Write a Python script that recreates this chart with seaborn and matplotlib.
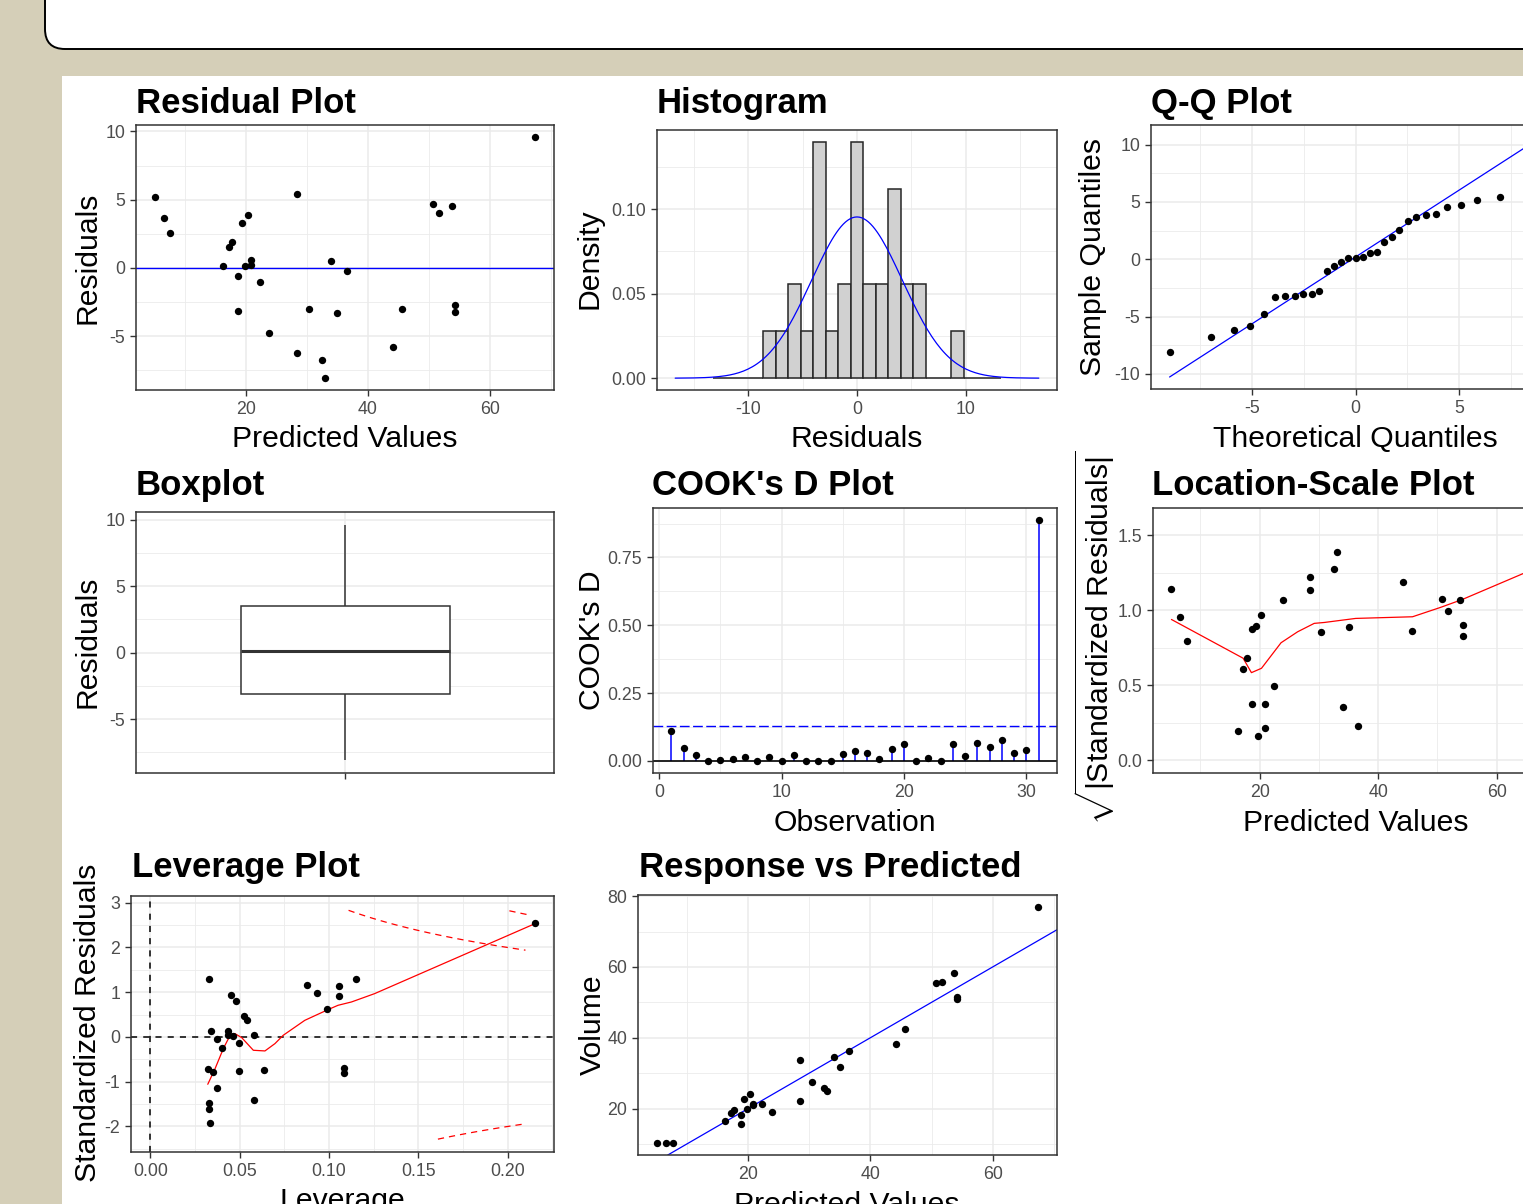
import numpy as np
import pandas as pd
import matplotlib
matplotlib.use("Agg")
import matplotlib.pyplot as plt
import seaborn as sns
from matplotlib.patches import FancyBboxPatch, Rectangle
from matplotlib.transforms import IdentityTransform
from matplotlib.ticker import MultipleLocator, FormatStrFormatter, NullLocator
from statistics import NormalDist

# ---------------- data ----------------
observation = list(range(1, 32))
predicted = [5.10, 6.62, 7.64, 16.25, 17.26, 17.77, 18.78, 18.78, 19.29, 19.79, 20.30,
             20.81, 20.81, 22.33, 23.85, 28.41, 28.41, 30.43, 32.46, 32.97, 33.98, 34.99,
             36.51, 44.11, 45.63, 50.70, 51.71, 53.74, 54.24, 54.24, 67.41]
volume = [10.3, 10.3, 10.2, 16.4, 18.8, 19.7, 15.6, 18.2, 22.6, 19.9, 24.2, 21.0, 21.4,
          21.3, 19.1, 22.2, 33.8, 27.4, 25.7, 24.9, 34.5, 31.7, 36.3, 38.3, 42.6, 55.4,
          55.7, 58.3, 51.5, 51.0, 77.0]
residuals = [5.20, 3.68, 2.56, 0.15, 1.54, 1.93, -3.18, -0.58, 3.31, 0.11, 3.90, 0.19,
             0.59, -1.03, -4.75, -6.21, 5.39, -3.03, -6.76, -8.07, 0.52, -3.29, -0.21,
             -5.81, -3.03, 4.70, 3.99, 4.56, -2.74, -3.24, 9.59]
std_residuals = [1.299, 0.914, 0.635, 0.037, 0.372, 0.467, -0.767, -0.140, 0.798, 0.026,
                 0.938, 0.046, 0.142, -0.247, -1.138, -1.484, 1.290, -0.725, -1.616,
                 -1.929, 0.125, -0.788, -0.051, -1.408, -0.737, 1.158, 0.986, 1.135,
                 -0.683, -0.808, 2.545]
leverage = [0.1151, 0.1054, 0.0992, 0.0578, 0.0542, 0.0525, 0.0494, 0.0494, 0.0479, 0.0465,
            0.0451, 0.0438, 0.0438, 0.0404, 0.0375, 0.0327, 0.0327, 0.0323, 0.0329, 0.0333,
            0.0342, 0.0353, 0.0376, 0.0579, 0.0638, 0.0878, 0.0935, 0.1055, 0.1087, 0.1087,
            0.2152]
cooks_d = [0.1097, 0.0492, 0.0222, 0.0000, 0.0040, 0.0060, 0.0153, 0.0005, 0.0160, 0.0000,
           0.0208, 0.0001, 0.0005, 0.0013, 0.0252, 0.0372, 0.0281, 0.0088, 0.0444, 0.0641,
           0.0003, 0.0114, 0.0001, 0.0609, 0.0185, 0.0646, 0.0501, 0.0760, 0.0285, 0.0398,
           0.8880]
# loess smooth (location-scale)
loc_smooth_x = [5.10, 17.2, 18.6, 20.3, 23.6, 26.4, 29.2, 30.9, 36.2, 45.8, 50.5, 54.2, 64.2, 67.41]
loc_smooth_y = [0.938, 0.680, 0.584, 0.613, 0.783, 0.856, 0.912, 0.918, 0.945, 0.956, 1.018,
                1.071, 1.239, 1.293]
# loess smooth (leverage)
lev_smooth_x = [0.0322, 0.0363, 0.0409, 0.0450, 0.0474, 0.0512, 0.0577, 0.0642, 0.0698,
                0.0744, 0.0865, 0.0995, 0.1051, 0.1126, 0.1256, 0.2152]
lev_smooth_y = [-1.057, -0.707, -0.26, 0.06, 0.075, -0.015, -0.297, -0.312, -0.148, 0.037,
                0.372, 0.611, 0.708, 0.782, 0.969, 2.53]
# Cook's distance contour lines in the leverage plot
cook_levels = [0.5, 1.0, 0.5]
cook_signs = [1, 1, -1]
cook_h_from = [0.111, 0.201, 0.161]
cook_h_to = [0.210, 0.211, 0.210]

# ---------------- style ----------------
W, H = 1523, 1204
BG = "#D5CFB8"
sns.set_style("white")
plt.rcParams["font.family"] = ["Liberation Sans", "DejaVu Sans"]
plt.rcParams["axes.unicode_minus"] = False
plt.rcParams["mathtext.fontset"] = "custom"
plt.rcParams["mathtext.rm"] = "Liberation Sans"
plt.rcParams["mathtext.it"] = "Liberation Sans:italic"
plt.rcParams["mathtext.bf"] = "Liberation Sans:bold"

TITLE = 25.0
LAB = 21.7
TICK = 12.8
PT_S = 28

fig = plt.figure(figsize=(W / 100, H / 100), dpi=100, facecolor=BG)
fig.add_artist(Rectangle((62 / W, 0), 1, 1 - 76 / H, transform=fig.transFigure,
                         facecolor="white", edgecolor="none", zorder=-5))
fig.add_artist(FancyBboxPatch((45, H - 49), 1700, 200,
                              boxstyle="round,pad=0,rounding_size=20",
                              transform=IdentityTransform(), facecolor="white",
                              edgecolor="black", linewidth=1.4, zorder=-4))


def add_ax(l, t, r, b):
    return fig.add_axes([l / W, 1 - b / H, (r - l) / W, (b - t) / H])


def style(ax, xmaj, xmin, ymaj, ymin, xfmt=None, yfmt=None):
    ax.set_facecolor("white")
    for s in ax.spines.values():
        s.set_visible(True)
        s.set_color("#333333")
        s.set_linewidth(1.1)
    if xmaj is not None:
        ax.xaxis.set_major_locator(MultipleLocator(xmaj))
        ax.xaxis.set_minor_locator(MultipleLocator(xmin))
    ax.yaxis.set_major_locator(MultipleLocator(ymaj))
    ax.yaxis.set_minor_locator(MultipleLocator(ymin))
    if xfmt:
        ax.xaxis.set_major_formatter(FormatStrFormatter(xfmt))
    if yfmt:
        ax.yaxis.set_major_formatter(FormatStrFormatter(yfmt))
    ax.grid(True, which="major", color="#EBEBEB", linewidth=1.1)
    ax.grid(True, which="minor", color="#EBEBEB", linewidth=0.6)
    ax.set_axisbelow(True)
    ax.tick_params(which="major", length=4.3, width=1.0, color="#333333",
                   labelsize=TICK, labelcolor="#4D4D4D", pad=3.4,
                   bottom=True, left=True, top=False, right=False)
    ax.tick_params(which="minor", length=0)
    ax.set_xlabel("")
    ax.set_ylabel("")


def expand(lo, hi, f=0.05):
    d = (hi - lo) * f
    return lo - d, hi + d


n = len(residuals)
mu = float(np.mean(residuals))
sd = float(np.std(residuals, ddof=1))
dist = NormalDist(mu, sd)
pred_lim = expand(min(predicted), max(predicted))

# ---- 1 Residual plot
ax = add_ax(136, 125, 554, 390)
sns.scatterplot(x=predicted, y=residuals, color="black", s=PT_S, linewidth=0, ax=ax, zorder=3)
ax.axhline(0, color="#0000FF", linewidth=1.0)
style(ax, 20, 10, 5, 2.5)
ax.set_xlim(*pred_lim)
ax.set_ylim(*expand(min(residuals), max(residuals)))

# ---- 2 Histogram
ax = add_ax(657, 130, 1057, 390)
hist_edges = -0.575 + 1.153 * np.arange(-11, 13)
sns.histplot(x=residuals, stat="density", bins=hist_edges,
             color="#D1D1D1", edgecolor="#262626", linewidth=1.1, alpha=1, ax=ax)
xs = np.linspace(mu - 4 * sd, mu + 4 * sd, 161)
ys = [dist.pdf(v) for v in xs]
sns.lineplot(x=xs, y=ys, color="#0000FF", linewidth=0.9, estimator=None, sort=False, ax=ax)
style(ax, 10, 5, 0.05, 0.025, yfmt="%.2f")
ax.set_xlim(*expand(xs[0], xs[-1]))
ax.set_ylim(*expand(0, max(p.get_height() for p in ax.patches)))

# ---- 3 Q-Q plot
ax = add_ax(1151, 125, 1560, 389)
probs = (np.arange(1, n + 1) - 0.5) / n
theo = [dist.inv_cdf(p) for p in probs]
sample = np.sort(residuals)
q1, q3 = np.percentile(residuals, [25, 75])
t1, t3 = dist.inv_cdf(0.25), dist.inv_cdf(0.75)
slope = (q3 - q1) / (t3 - t1)
icpt = q1 - slope * t1
line_x = [theo[0], theo[-1]]
line_y = [icpt + slope * v for v in line_x]
sns.lineplot(x=line_x, y=line_y, color="#0000FF", linewidth=0.9, estimator=None, ax=ax)
sns.scatterplot(x=theo, y=sample, color="black", s=PT_S, linewidth=0, ax=ax, zorder=3)
style(ax, 5, 2.5, 5, 2.5)
ax.set_xlim(*expand(theo[0], theo[-1]))
ax.set_ylim(*expand(min(line_y[0], sample[0]), max(line_y[1], sample[-1])))

# ---- 4 Boxplot
ax = add_ax(136, 512, 554, 773)
sns.boxplot(y=residuals, width=0.5, color="white", linecolor="#333333", linewidth=1.1,
            showcaps=False, medianprops={"linewidth": 2.2}, ax=ax)
style(ax, None, None, 5, 2.5)
ax.set_xlim(-0.5, 0.5)
ax.set_xticks([0])
ax.set_xticklabels([""])
ax.xaxis.set_minor_locator(NullLocator())
ax.grid(True, axis="x", which="major", color="#EBEBEB", linewidth=1.1)
ax.set_ylim(-9.05, 10.57)

# ---- 5 Cook's D
ax = add_ax(653, 508, 1057, 773)
ax.vlines(observation, 0, cooks_d, color="#0000FF", linewidth=1.1)
ax.axhline(0, color="black", linewidth=1.2)
ax.axhline(4 / n, color="#0000FF", linewidth=1.0, linestyle=(0, (7, 2.5)))
sns.scatterplot(x=observation, y=cooks_d, color="black", s=PT_S, linewidth=0, ax=ax, zorder=3)
style(ax, 10, 5, 0.25, 0.125, yfmt="%.2f")
ax.set_xlim(*expand(1, n))
ax.set_ylim(*expand(0, max(cooks_d)))

# ---- 6 Location-Scale
ax = add_ax(1153, 508, 1559, 773)
sqrt_abs = np.sqrt(np.abs(std_residuals))
sns.scatterplot(x=predicted, y=sqrt_abs, color="black", s=PT_S, linewidth=0, ax=ax, zorder=3)
sns.lineplot(x=loc_smooth_x, y=loc_smooth_y, color="#FF0000", linewidth=0.9,
             estimator=None, sort=False, ax=ax)
style(ax, 20, 10, 0.5, 0.25, yfmt="%.1f")
ax.set_xlim(*pred_lim)
ax.set_ylim(-0.084, 1.68)

# ---- 7 Leverage
ax = add_ax(131, 896, 554, 1152)
ax.axvline(0, color="black", linewidth=1.1, linestyle=(0, (4, 4)))
ax.axhline(0, color="black", linewidth=1.1, linestyle=(0, (4, 4)))
for lev_, sgn, h0, h1 in zip(cook_levels, cook_signs, cook_h_from, cook_h_to):
    hh = np.linspace(h0, h1, 60)
    yy = sgn * np.sqrt(lev_ * 2 * (1 - hh) / hh)
    ax.plot(hh, yy, color="#FF0000", linewidth=0.9, linestyle=(0, (5, 4)))
sns.scatterplot(x=leverage, y=std_residuals, color="black", s=PT_S, linewidth=0, ax=ax, zorder=3)
sns.lineplot(x=lev_smooth_x, y=lev_smooth_y, color="#FF0000", linewidth=0.9,
             estimator=None, sort=False, ax=ax)
style(ax, 0.05, 0.025, 1, 0.5, xfmt="%.2f")
ax.set_xlim(*expand(0, max(leverage)))
ax.set_ylim(-2.57, 3.15)

# ---- 8 Response vs Predicted
ax = add_ax(638, 895, 1057, 1155)
ax.axline((0, 0), slope=1, color="#0000FF", linewidth=0.9)
sns.scatterplot(x=predicted, y=volume, color="black", s=PT_S, linewidth=0, ax=ax, zorder=3)
style(ax, 20, 10, 20, 10)
ax.set_xlim(*pred_lim)
ax.set_ylim(*expand(min(volume), max(volume)))

# ---------------- texts ----------------
titles = [("Residual Plot", 136, 113), ("Histogram", 657, 113), ("Q-Q Plot", 1151, 113),
          ("Boxplot", 136, 495), ("COOK's D Plot", 652, 495), ("Location-Scale Plot", 1152, 495),
          ("Leverage Plot", 132, 877), ("Response vs Predicted", 639, 877)]
for t, x, y in titles:
    fig.text(x / W, 1 - y / H, t, ha="left", va="baseline", fontsize=TITLE,
             fontweight="bold", color="black")

xlabels = [("Predicted Values", 345, 447), ("Residuals", 857, 447),
           ("Theoretical Quantiles", 1355, 447), ("Observation", 855, 831),
           ("Predicted Values", 1356, 831), ("Leverage", 342, 1209),
           ("Predicted Values", 847, 1213)]
for t, x, y in xlabels:
    fig.text(x / W, 1 - y / H, t, ha="center", va="baseline", fontsize=LAB, color="black")

ylabels = [("Residuals", 96, 258), ("Density", 598, 259), ("Sample Quantiles", 1101, 257),
           ("Residuals", 96, 642), ("COOK's D", 600, 640),
           (r"$\sqrt{|\mathrm{Standardized\ Residuals}|}$", 1109, 638),
           ("Standardized Residuals", 96, 1023), ("Volume", 601, 1025)]
for t, x, y in ylabels:
    fig.text(x / W, 1 - y / H, t, ha="center", va="baseline", rotation=90,
             rotation_mode="anchor", fontsize=LAB, color="black")

fig.savefig("out.png", dpi=100, facecolor=BG)
